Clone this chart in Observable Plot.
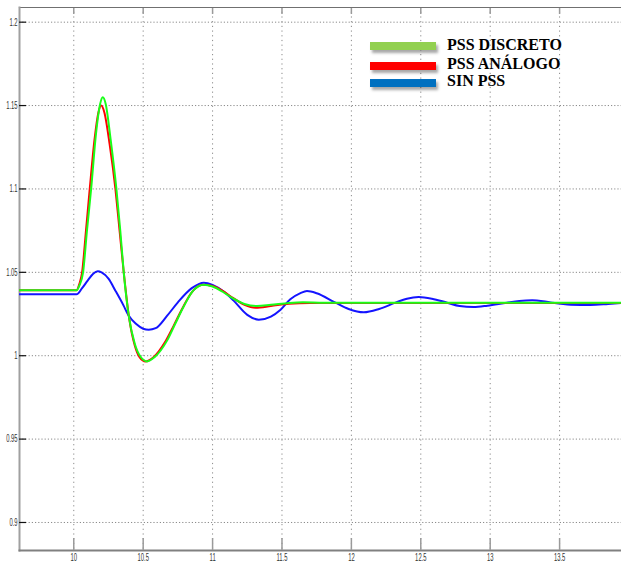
<!DOCTYPE html>
<html>
<head>
<meta charset="utf-8">
<script src="https://cdn.jsdelivr.net/npm/d3@7"></script>
<script src="https://cdn.jsdelivr.net/npm/@observablehq/plot@0.6"></script>
<style>
  body { margin: 0; background: #fff; }
  #wrap { position: relative; width: 621px; height: 565px; overflow: hidden; }
  .sw { position: absolute; left: 370px; width: 66px; height: 8px; box-shadow: 2px 3px 3px rgba(0,0,0,0.35); }
  .lt { position: absolute; left: 447px; font: bold 16px "Liberation Serif", "Times New Roman", serif; line-height: 18px; color: #000; white-space: nowrap; }
</style>
</head>
<body>
<div id="wrap"></div>
<script>
// ---- data ----
const seriesNames = ["PSS DISCRETO", "PSS ANÁLOGO", "SIN PSS"];
const legendColors = ["#92d050", "#ff0000", "#0070c0"];
const lineColors = ["#18ff18", "#ff0000", "#1414ff"];

const xTicks = [10, 10.5, 11, 11.5, 12, 12.5, 13, 13.5];
const xTickLabels = ["10", "10.5", "11", "11.5", "12", "12.5", "13", "13.5"];
const yTicks = [0.9, 0.95, 1, 1.05, 1.1, 1.15, 1.2];
const yTickLabels = ["0.9", "0.95", "1", "1.05", "1.1", "1.15", "1.2"];

const tDiscreto = [9.61, 10.02, 10.04, 10.067, 10.095, 10.125, 10.16, 10.19, 10.209, 10.23, 10.265, 10.307, 10.335, 10.36, 10.396, 10.44, 10.48, 10.529, 10.58, 10.673, 10.73, 10.79, 10.86, 10.937, 11.0, 11.07, 11.15, 11.23, 11.32, 11.42, 11.55, 11.65, 11.8, 13.95];
const vDiscreto = [1.0392, 1.0392, 1.042, 1.05, 1.075, 1.1, 1.133, 1.151, 1.155, 1.151, 1.13, 1.1, 1.075, 1.05, 1.024, 1.007, 0.9995, 0.9966, 0.999, 1.0092, 1.019, 1.0292, 1.039, 1.0426, 1.0415, 1.0385, 1.0342, 1.031, 1.0298, 1.0305, 1.0316, 1.032, 1.0318, 1.0318];

const tAnalogo = [9.61, 10.02, 10.04, 10.06, 10.088, 10.115, 10.15, 10.178, 10.197, 10.22, 10.258, 10.3, 10.33, 10.36, 10.398, 10.44, 10.475, 10.517, 10.57, 10.66, 10.72, 10.78, 10.85, 10.93, 11.0, 11.07, 11.15, 11.23, 11.31, 11.42, 11.55, 11.7, 13.95];
const vAnalogo = [1.0392, 1.0392, 1.043, 1.05, 1.075, 1.1, 1.13, 1.146, 1.15, 1.146, 1.127, 1.1, 1.075, 1.05, 1.023, 1.006, 0.999, 0.9966, 0.9988, 1.0085, 1.018, 1.028, 1.038, 1.0425, 1.0418, 1.039, 1.0345, 1.0305, 1.0288, 1.0298, 1.0312, 1.0316, 1.0316];

const tSinPss = [9.61, 10.02, 10.06, 10.1, 10.14, 10.173, 10.2, 10.25, 10.3, 10.358, 10.394, 10.45, 10.5, 10.54, 10.59, 10.673, 10.75, 10.85, 10.937, 11.0, 11.08, 11.15, 11.25, 11.333, 11.42, 11.49, 11.56, 11.633, 11.68, 11.75, 11.885, 11.98, 12.089, 12.2, 12.317, 12.4, 12.485, 12.58, 12.69, 12.78, 12.88, 12.98, 13.12, 13.21, 13.303, 13.38, 13.447, 13.58, 13.72, 13.85, 13.95];
const vSinPss = [1.0368, 1.0368, 1.0405, 1.045, 1.0492, 1.0506, 1.05, 1.0462, 1.039, 1.0302, 1.0242, 1.019, 1.0162, 1.0156, 1.0165, 1.024, 1.032, 1.0405, 1.0438, 1.0425, 1.0385, 1.0332, 1.0245, 1.0216, 1.0235, 1.0276, 1.0338, 1.0375, 1.0388, 1.0375, 1.0318, 1.028, 1.026, 1.028, 1.0318, 1.0342, 1.0352, 1.0342, 1.0318, 1.0298, 1.0292, 1.03, 1.0318, 1.0328, 1.0332, 1.0327, 1.0318, 1.0306, 1.0304, 1.031, 1.0316];

const xDomain = [9.609, 13.946];
const yDomain = [0.8832, 1.2088];

// ---- build ----
const toRows = (ts, vs) => ts.map((t, i) => ({t, v: vs[i]}));
const rowsDiscreto = toRows(tDiscreto, vDiscreto);
const rowsAnalogo = toRows(tAnalogo, vAnalogo);
const rowsSin = toRows(tSinPss, vSinPss);

const chart = Plot.plot({
  width: 621,
  height: 565,
  marginLeft: 19,
  marginRight: 0,
  marginTop: 7,
  marginBottom: 15,
  style: { background: "#fff", fontFamily: "'Liberation Sans', Arial, sans-serif", fontSize: "10.5px", color: "#222" },
  x: { domain: xDomain, label: null },
  y: { domain: yDomain, label: null },
  marks: [
    Plot.gridX(xTicks, { stroke: "#8a8a8a", strokeOpacity: 1, strokeDasharray: "1.2,3.5" }),
    Plot.gridY(yTicks, { stroke: "#8a8a8a", strokeOpacity: 1, strokeDasharray: "1.2,2" }),
    Plot.frame({ anchor: "top", stroke: "#707070", strokeWidth: 1.2 }),
    Plot.frame({ anchor: "left", stroke: "#a0a0a0", strokeWidth: 2 }),
    Plot.frame({ anchor: "bottom", stroke: "#808080", strokeWidth: 2 }),
    Plot.axisX(xTicks, { anchor: "bottom", label: null, tickSize: -12, tickPadding: 15, stroke: "#9a9a9a", strokeWidth: 1.5, fill: "#333", tickFormat: (d) => xTickLabels[xTicks.indexOf(d)] }),
    Plot.axisX(xTicks, { anchor: "top", label: null, tickSize: -6, stroke: "#9a9a9a", strokeWidth: 1.5, tickFormat: () => "" }),
    Plot.axisY(yTicks, { anchor: "left", label: null, tickSize: -7, tickPadding: 9, stroke: "#111", strokeWidth: 1.2, fill: "#333", tickFormat: (d) => yTickLabels[yTicks.indexOf(d)] }),
    Plot.line(rowsSin, { x: "t", y: "v", stroke: lineColors[2], strokeWidth: 2, curve: "monotone-x", clip: true }),
    Plot.line(rowsAnalogo, { x: "t", y: "v", stroke: lineColors[1], strokeWidth: 2, curve: "monotone-x", clip: true }),
    Plot.line(rowsDiscreto, { x: "t", y: "v", stroke: lineColors[0], strokeWidth: 2, curve: "monotone-x", clip: true })
  ]
});

const wrap = document.getElementById("wrap");
wrap.appendChild(chart);

// compress tick labels horizontally about their anchor (narrow look of the original)
const svgNS = "http://www.w3.org/2000/svg";
chart.querySelectorAll("text").forEach((el) => {
  const s = (el.textContent || "").trim();
  if (!s) return;
  const r = el.getBoundingClientRect();
  if (!r.width) return;
  const anchor = getComputedStyle(el).textAnchor;
  const cx = anchor === "end" ? r.right : anchor === "start" ? r.left : (r.left + r.right) / 2;
  const m = el.parentNode.getScreenCTM().inverse();
  const p = new DOMPoint(cx, (r.top + r.bottom) / 2).matrixTransform(m);
  const g = document.createElementNS(svgNS, "g");
  g.setAttribute("transform", `translate(${p.x},0) scale(0.56,1) translate(${-p.x},0)`);
  el.parentNode.insertBefore(g, el);
  g.appendChild(el);
});

// legend
const swTops = [42, 62, 79];
const txTops = [35.6, 54.9, 72.3];
seriesNames.forEach((name, i) => {
  const sw = document.createElement("div");
  sw.className = "sw";
  sw.style.top = swTops[i] + "px";
  sw.style.background = legendColors[i];
  wrap.appendChild(sw);
  const tx = document.createElement("div");
  tx.className = "lt";
  tx.style.top = txTops[i] + "px";
  tx.textContent = name;
  wrap.appendChild(tx);
});
</script>
</body>
</html>
